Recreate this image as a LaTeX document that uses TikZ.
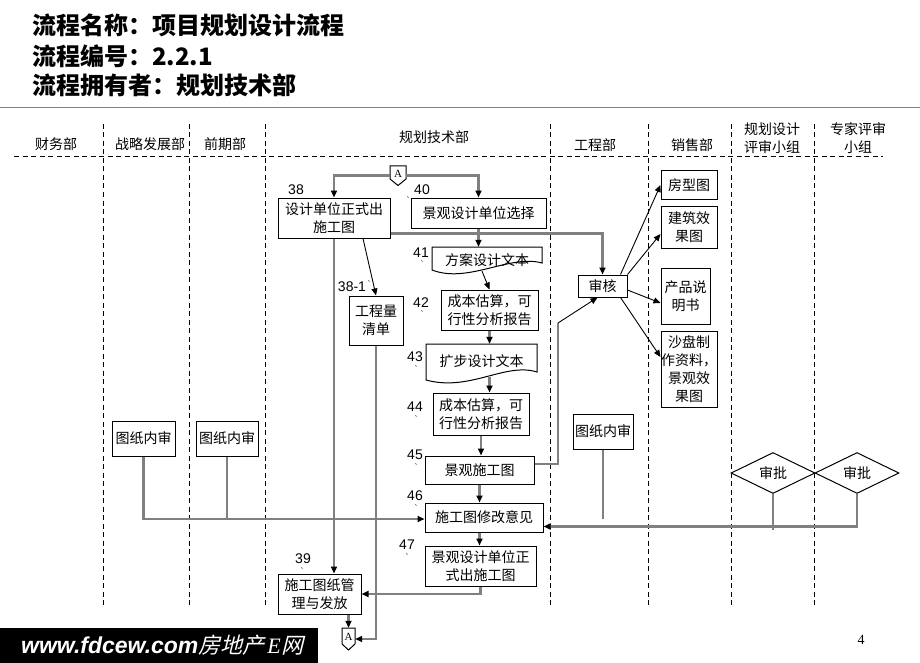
\documentclass[tikz,border=0pt]{standalone}
\usepackage{fontspec}
\usetikzlibrary{arrows.meta,shapes.geometric,calc}
\newfontfamily\cjk{Noto Sans CJK SC}
\newfontfamily\cjkit[FakeSlant=0.25]{Noto Sans CJK SC}
\newfontfamily\numf{Liberation Sans}
\newfontfamily\pagef{Liberation Serif}
\begin{document}
\begin{tikzpicture}[x=1pt,y=-1pt,
  bx/.style={draw=black,line width=1pt,fill=white,inner sep=0pt,align=center,font=\cjk\fontsize{14}{18}\selectfont},
  dc/.style={inner sep=0pt,align=center,font=\cjk\fontsize{14}{18}\selectfont},
  lbl/.style={font=\numf\fontsize{14}{14}\selectfont,inner sep=0pt},
  tk/.style={font=\numf\fontsize{9}{9}\selectfont,inner sep=0pt},
  hd/.style={font=\cjk\fontsize{14}{18}\selectfont,align=center,inner sep=0pt},
  ttl/.style={anchor=west,inner sep=0pt,font=\cjk\bfseries\fontsize{24}{24}\selectfont},
  gl/.style={draw=black!50,line width=2.3pt},
  bl/.style={draw=black,line width=0.9pt},
  arr/.style={-{Triangle[length=7pt,width=6pt,color=black]}},
  dsh/.style={draw=black,line width=0.9pt,dash pattern=on 5pt off 3.5pt},
  dia/.style={draw=black,line width=1pt,fill=white,diamond,inner sep=0pt,minimum width=84pt,minimum height=34pt,font=\cjk\fontsize{14}{18}\selectfont},
]
\useasboundingbox (0,0) rectangle (920,663);
\fill[white] (0,0) rectangle (920,663);

% titles
\node[ttl] (t1) at (32,25) {流程名称：项目规划设计流程};
\node[ttl] (t2) at (32,56) {流程编号：2.2.1};
\node[ttl] (t3) at (32,85) {流程拥有者：规划技术部};
\draw[black!50,line width=1.6pt] (0,107.5) -- (920,107.5);

% swimlane grid
\draw[dsh] (14,156) -- (883,156);
\foreach \xx in {103,189,265,550,648,731,814}
  \draw[dsh] (\xx,124) -- (\xx,607);

% column headers
\node[hd] (h1) at (56,144) {财务部};
\node[hd] (h2) at (150,144) {战略发展部};
\node[hd] (h3) at (225,144) {前期部};
\node[hd] (h4) at (434,137) {规划技术部};
\node[hd] (h5) at (595,145) {工程部};
\node[hd] (h6) at (692,145) {销售部};
\node[hd] (h7) at (772,138) {规划设计\\评审小组};
\node[hd] (h8) at (858,138) {专家评审\\小组};

% off-page connectors
\node[inner sep=0pt,minimum width=16pt,minimum height=19pt] (At) at (398,175.5) {};
\draw[black,line width=1pt,fill=white] (390,166) -- (406,166) -- (406,179) -- (398,185.5) -- (390,179) -- cycle;
\node[inner sep=0pt,font=\pagef\fontsize{11}{11}\selectfont] (Atl) at (398,174) {A};
\node[inner sep=0pt,minimum width=13pt,minimum height=22pt] (Ab) at (348.5,639) {};
\draw[black,line width=1pt,fill=white] (342,628) -- (355,628) -- (355,644) -- (348.5,650) -- (342,644) -- cycle;
\node[inner sep=0pt,font=\pagef\fontsize{11}{11}\selectfont] (Abl) at (348.5,637) {A};

% boxes
\node[bx,minimum width=112pt,minimum height=40pt] (b38) at (334,218) {设计单位正式出\\施工图};
\node[bx,minimum width=135pt,minimum height=30pt] (b40) at (478.5,213) {景观设计单位选择};
\node[dc,minimum width=110pt,minimum height=28pt] (b41) at (487,261) {};
\draw[black,line width=1pt,fill=white] (432,247) -- (542,247) -- (542,263) .. controls (510,254) and (468,284) .. (432,270) -- cycle;
\node[dc] (b41t) at (487,260) {方案设计文本};
\node[bx,minimum width=97pt,minimum height=40pt] (b42) at (489.5,310) {成本估算，可\\行性分析报告};
\node[bx,minimum width=54pt,minimum height=49pt] (b381) at (376,320.5) {工程量\\清单};
\node[dc,minimum width=111pt,minimum height=38pt] (b43) at (481.5,363) {};
\draw[black,line width=1pt,fill=white] (426,344) -- (537,344) -- (537,372) .. controls (505,362) and (470,392) .. (426,380) -- cycle;
\node[dc] (b43t) at (481.5,361) {扩步设计文本};
\node[bx,minimum width=96pt,minimum height=42pt] (b44) at (481,414) {成本估算，可\\行性分析报告};
\node[bx,minimum width=109pt,minimum height=28pt] (b45) at (479.5,470) {景观施工图};
\node[bx,minimum width=118pt,minimum height=29pt] (b46) at (484,517.5) {施工图修改意见};
\node[bx,minimum width=111pt,minimum height=40pt] (b47) at (480.5,566) {景观设计单位正\\式出施工图};
\node[bx,minimum width=83pt,minimum height=40pt] (b39) at (319.5,594) {施工图纸管\\理与发放};

\node[bx,minimum width=49pt,minimum height=22pt] (shen) at (602.5,286) {审核};
\node[bx,minimum width=56pt,minimum height=28pt] (s1) at (689,185) {房型图};
\node[bx,minimum width=56pt,minimum height=42pt] (s2) at (689,227) {建筑效\\果图};
\node[bx,minimum width=49pt,minimum height=56pt] (s3) at (685.5,296) {产品说\\明书};
\node[bx,minimum width=56pt,minimum height=76pt] (s4) at (689,369) {沙盘制\\作资料，\\景观效\\果图};

\node[bx,minimum width=60pt,minimum height=35pt] (n1) at (603,431.5) {图纸内审};
\node[bx,minimum width=63pt,minimum height=35pt] (f1) at (143.5,438.5) {图纸内审};
\node[bx,minimum width=62pt,minimum height=35pt] (f2) at (227,438.5) {图纸内审};
\node[dia] (d1) at (773,473) {审批};
\node[dia] (d2) at (857,473) {审批};

% step numbers
\node[lbl] (l38) at (296,190) {38};
\node[lbl] (l40) at (422,190) {40};
\node[tk] (k40) at (408,200) {`};
\node[lbl] (l41) at (421,253) {41};
\node[tk] (k41) at (422,264) {`};
\node[lbl] (l381) at (352,287) {38-1};
\node[tk] (k381) at (369,284) {`};
\node[lbl] (l42) at (421,303) {42};
\node[tk] (k42) at (422,314) {`};
\node[lbl] (l43) at (415,357) {43};
\node[tk] (k43) at (416,369) {`};
\node[lbl] (l44) at (415,407) {44};
\node[tk] (k44) at (416,419) {`};
\node[lbl] (l45) at (415,455) {45};
\node[tk] (k45) at (416,467) {`};
\node[lbl] (l46) at (415,496) {46};
\node[tk] (k46) at (416,508) {`};
\node[lbl] (l47) at (407,545) {47};
\node[tk] (k47) at (407,557) {`};
\node[lbl] (l39) at (303,559) {39};
\node[tk] (k39) at (302,571) {`};

% connectors
\draw[gl,arr] (At.west) -| (b38.north);
\draw[gl,arr] (At.east) -| (b40.north);
\draw[gl,arr] (b38.south) -- (b38.south |- b39.north);
\draw[bl,arr] ($(b38.south)+(29,0)$) -- (b381.north);
\draw[gl,arr] ($(b38.south east)+(0,-5)$) -| (shen.north);
\draw[gl,arr] (b40.south) -- (b40.south |- b41.north);
\draw[bl,arr] ($(b41.south)+(-5,-4)$) -- (b42.north);
\draw[gl,arr] (b42.south) -- (b42.south |- b43.north);
\draw[gl,arr] ($(b42.south |- b43.south)+(0,-5)$) -- (b42.south |- b44.north);
\draw[gl,arr] (b44.south) -- (b44.south |- b45.north);
\draw[gl,arr] (b45.south) -- (b45.south |- b46.north);
\draw[gl,arr] (b45.south |- b46.south) -- (b45.south |- b47.north);
\draw[gl,arr] (b47.south) |- (b39.east);
\draw[gl,arr] (Ab.north |- b39.south) -- (Ab.north);
\draw[gl,arr] (b381.south) |- (Ab.east);
\coordinate (k1) at (558,323);
\draw[gl] ([yshift=6pt]b45.east) -| (k1);
\draw[bl,arr] (k1) -- ([xshift=-5pt]shen.south);
\draw[bl,arr] ([xshift=-7pt]shen.north east) -- (s1.west);
\draw[bl,arr] (shen.north east) -- ([yshift=-7pt]s2.west);
\draw[bl,arr] ([yshift=-4pt]shen.east) -- ([yshift=-7pt]s3.west);
\draw[bl,arr] ([xshift=-7pt]shen.south east) -- ([yshift=12pt]s4.west);
\draw[gl,arr] (f1.south) |- ([yshift=-1.5pt]b46.west);
\draw[gl] (f2.south) -- ++(0,62.5);
\draw[gl] (n1.south) -- ++(0,69);
\draw[gl,arr] (d2.south) |- ([yshift=-9pt]b46.east);
\draw[gl] (d1.south) -- ++(0,36.5);

% footer
\fill[black] (0,628) rectangle (318,663);
\node[anchor=west,text=white,inner sep=0pt] (ft) at (21,645) {{\numf\bfseries\itshape\fontsize{23}{23}\selectfont www.fdcew.com}{\cjkit\fontsize{22}{22}\selectfont 房地产}\hspace{3pt}{\pagef\itshape\fontsize{22}{22}\selectfont E}\hspace{1pt}{\cjkit\fontsize{22}{22}\selectfont 网}};
\node[inner sep=0pt,font=\pagef\fontsize{14}{14}\selectfont] (pg) at (861,640) {4};
\end{tikzpicture}
\end{document}
